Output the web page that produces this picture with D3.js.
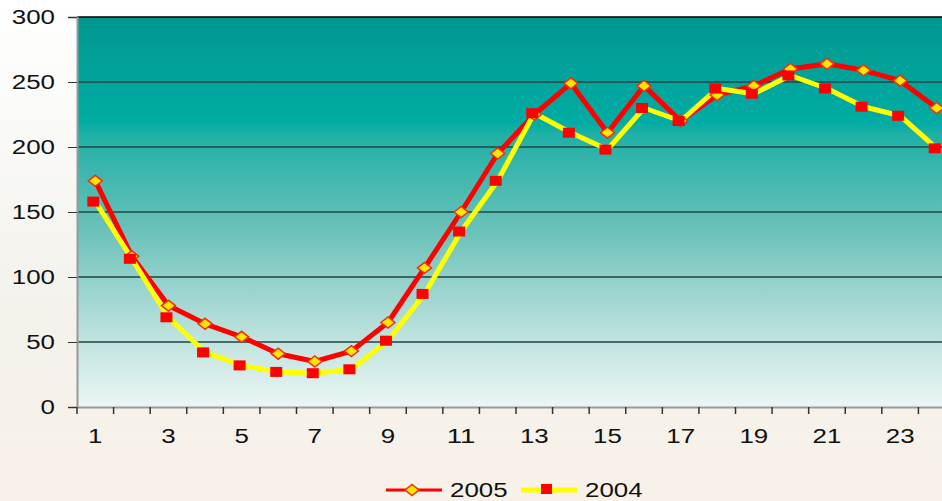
<!DOCTYPE html>
<html>
<head>
<meta charset="utf-8">
<script src="https://cdn.jsdelivr.net/npm/d3@7"></script>
<style>
  body { margin: 0; background: #f6f5f0; overflow: hidden; }
  #chart { width: 942px; height: 501px; }
  .axis text { font-family: "Liberation Sans", Arial, sans-serif; font-size: 20px; fill: #111; }
</style>
</head>
<body>
<div id="chart"></div>
<script>
// hours of the day
const hours = d3.range(1, 25);
const tickLabels = [1, 3, 5, 7, 9, 11, 13, 15, 17, 19, 21, 23];
const yTicks = [0, 50, 100, 150, 200, 250, 300];

const series2005 = [174, 116, 78, 64, 54, 41, 35, 43, 65, 107, 150, 195,
                    225, 249, 211, 247, 220, 240, 247, 260, 264, 259, 251, 230];
const series2004 = [158, 114, 69, 42, 32, 27, 26, 29, 51, 87, 135, 174,
                    226, 211, 198, 230, 220, 245, 241, 255, 245, 231, 224, 199];

const margin = {top: 17, left: 77};
const plotW = 878, plotH = 390;

const svg = d3.select("#chart").append("svg")
    .attr("width", 942)
    .attr("height", 501);

// soft background wash
const defs = svg.append("defs");
const bg = defs.append("linearGradient").attr("id", "bgGrad")
    .attr("x1", 0).attr("y1", 0).attr("x2", 0).attr("y2", 1);
bg.append("stop").attr("offset", "0%").attr("stop-color", "#ffffff");
bg.append("stop").attr("offset", "60%").attr("stop-color", "#f3f2ec");
bg.append("stop").attr("offset", "100%").attr("stop-color", "#f8f1e8");
svg.append("rect").attr("width", 942).attr("height", 501).attr("fill", "url(#bgGrad)");

const plotGrad = defs.append("linearGradient").attr("id", "plotGrad")
    .attr("x1", 0).attr("y1", 0).attr("x2", 0).attr("y2", 1);
plotGrad.append("stop").attr("offset", "0%").attr("stop-color", "#009890");
plotGrad.append("stop").attr("offset", "27%").attr("stop-color", "#00aca3");
plotGrad.append("stop").attr("offset", "30%").attr("stop-color", "#1fb0a6");
plotGrad.append("stop").attr("offset", "55%").attr("stop-color", "#6cc2ba");
plotGrad.append("stop").attr("offset", "80%").attr("stop-color", "#b8e0db");
plotGrad.append("stop").attr("offset", "100%").attr("stop-color", "#ecf6f4");

const g = svg.append("g").attr("transform", `translate(${margin.left}, ${margin.top})`);

// Scales
const x = d3.scaleBand().domain(hours).range([0, plotW]);
const y = d3.scaleLinear().domain([0, 300]).range([plotH, 0]);
const cx = d => x(d) + x.bandwidth() / 2;

g.append("rect")
    .attr("width", plotW).attr("height", plotH)
    .attr("fill", "url(#plotGrad)");

// grid lines
g.selectAll(".grid").data(yTicks.filter(d => d > 0)).join("line")
    .attr("x1", 0).attr("x2", plotW)
    .attr("y1", d => y(d)).attr("y2", d => y(d))
    .attr("stroke", d => d === 300 ? "#000" : "#1e4544")
    .attr("stroke-width", 1.5);

// the original text is drawn a bit wide, stretch glyphs to match
function widen(sel) {
    sel.each(function() {
        const t = d3.select(this);
        t.attr("textLength", t.text().length * 14.4).attr("lengthAdjust", "spacingAndGlyphs");
    });
}

// Axes
const yAxis = d3.axisLeft(y).tickValues(yTicks).tickSize(9).tickPadding(13);
const yG = g.append("g").attr("class", "axis").call(yAxis);
yG.select(".domain").attr("stroke", "#999").attr("stroke-width", 2);
yG.selectAll(".tick line").attr("stroke", "#333");
yG.selectAll(".tick text").call(widen);

const xAxis = d3.axisBottom(x)
    .tickValues(tickLabels)
    .tickSize(0).tickPadding(22);
const xG = g.append("g").attr("class", "axis")
    .attr("transform", `translate(0, ${plotH})`).call(xAxis);
xG.select(".domain").attr("stroke", "#999").attr("stroke-width", 2);
xG.selectAll(".tick text").call(widen);

// boundary tick marks between categories
g.selectAll(".xtick").data(hours).join("line")
    .attr("x1", d => x(d)).attr("x2", d => x(d))
    .attr("y1", plotH).attr("y2", plotH + 7)
    .attr("stroke", "#333").attr("stroke-width", 1.5);

const line = d3.line().x((d, i) => cx(hours[i])).y(d => y(d));

g.append("path").datum(series2005)
    .attr("d", line).attr("fill", "none")
    .attr("stroke", "#ff0000").attr("stroke-width", 5).attr("stroke-linejoin", "round");

g.append("path").datum(series2004)
    .attr("d", line).attr("fill", "none")
    .attr("stroke", "#ffff00").attr("stroke-width", 5).attr("stroke-linejoin", "round");

// flat diamond marker, 14 wide by 11 high
const diamondPath = "M-7,0L0,-5.5L7,0L0,5.5Z";

g.selectAll(".m05").data(series2005).join("path")
    .attr("d", diamondPath)
    .attr("transform", (d, i) => `translate(${cx(hours[i])}, ${y(d)})`)
    .attr("fill", "#ffe600").attr("stroke", "#f03010").attr("stroke-width", 1.5);

g.selectAll(".m04").data(series2004).join("rect")
    .attr("x", (d, i) => cx(hours[i]) - 6 - 2)
    .attr("y", d => y(d) - 5)
    .attr("width", 12).attr("height", 10)
    .attr("fill", "#ff0000");

// Legend
const leg = svg.append("g").attr("class", "axis");
leg.append("line").attr("x1", 386).attr("x2", 442).attr("y1", 490).attr("y2", 490)
    .attr("stroke", "#ff0000").attr("stroke-width", 3);
leg.append("path").attr("d", diamondPath).attr("transform", "translate(412, 490)")
    .attr("fill", "#ffe600").attr("stroke", "#f03010").attr("stroke-width", 1.5);
leg.append("text").attr("x", 450).attr("y", 497).text("2005").call(widen);
leg.append("line").attr("x1", 521).attr("x2", 577).attr("y1", 490).attr("y2", 490)
    .attr("stroke", "#ffff00").attr("stroke-width", 5);
leg.append("rect").attr("x", 541).attr("y", 484).attr("width", 11).attr("height", 10)
    .attr("fill", "#ff0000");
leg.append("text").attr("x", 585).attr("y", 497).text("2004").call(widen);
</script>
</body>
</html>
